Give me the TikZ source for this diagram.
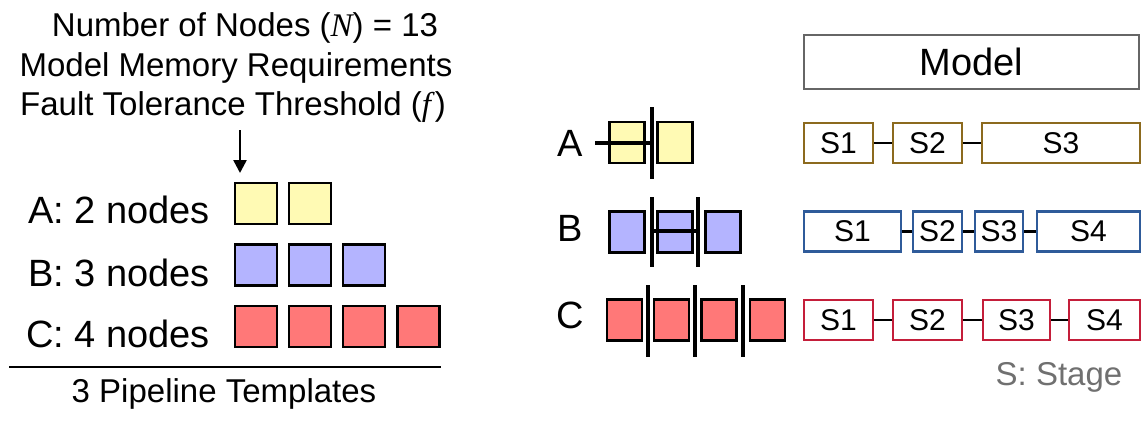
\documentclass[tikz,border=0pt]{standalone}
\usepackage{fontspec}
\setmainfont{Liberation Sans}
\newfontfamily\serifit{Liberation Serif}
\usetikzlibrary{arrows.meta}
\definecolor{yel}{HTML}{FFFAB4}
\definecolor{lav}{HTML}{B4B4FF}
\definecolor{sal}{HTML}{FF7878}
\definecolor{bA}{HTML}{8C6A1E}
\definecolor{bB}{HTML}{2F5B9A}
\definecolor{bC}{HTML}{C41E3A}
\definecolor{stgray}{HTML}{707070}
\begin{document}
\begin{tikzpicture}[x=1pt,y=-1pt,
 big/.style={font=\fontsize{33}{40}\selectfont, inner sep=0},
 lab/.style={font=\fontsize{38}{44}\selectfont, inner sep=0},
 sq/.style={draw=black, line width=2.3pt, minimum width=42pt, minimum height=41pt, inner sep=0},
 rsq/.style={draw=black, line width=2.3pt, minimum width=35pt, minimum height=41pt, inner sep=0},
 bar/.style={line width=4.5pt},
 stgbox/.style={draw, line width=2.3pt, minimum height=40pt, inner sep=0, font=\fontsize{30}{34}\selectfont},
 conn/.style={line width=2.2pt},
]
\useasboundingbox (0,0) rectangle (1143,424);

% title
\node[big, anchor=base] (t1) at (245,36) {Number of Nodes ({\serifit\itshape N}) = 13};
\node[big, anchor=base] (t2) at (236,76) {Model Memory Requirements};
\node[big, anchor=base] (t3) at (233,115) {Fault Tolerance Threshold ({\serifit\itshape f\/})};
\coordinate (arrtop) at (240,130);
\coordinate (arrbot) at (240,173);
\draw[line width=2.5pt, -{Triangle[length=13pt,width=13pt]}] (arrtop) -- (arrbot);

% left labels
\node[lab, anchor=base east] (la) at (210,223) {A: 2 nodes};
\node[lab, anchor=base east] (lb) at (210,286) {B: 3 nodes};
\node[lab, anchor=base east] (lc) at (210,347) {C: 4 nodes};

% left squares
\node[sq, fill=yel] (a1) at (256,203.5) {};
\node[sq, fill=yel] (a2) at (310,203.5) {};
\node[sq, fill=lav] (b1) at (256,265) {};
\node[sq, fill=lav] (b2) at (310,265) {};
\node[sq, fill=lav] (b3) at (364,265) {};
\node[sq, fill=sal] (c1) at (256,326.5) {};
\node[sq, fill=sal] (c2) at (310,326.5) {};
\node[sq, fill=sal] (c3) at (364,326.5) {};
\node[sq, fill=sal] (c4) at (418.5,326.5) {};

\coordinate (rl) at (9,367);
\coordinate (rr) at (441,367);
\draw[line width=2pt] (rl) -- (rr);
\node[big, anchor=base] (tmpl) at (224,402) {3 Pipeline Templates};

% right letters
\node[lab, anchor=base] (ra) at (570,156) {A};
\node[lab, anchor=base] (rb) at (570,241) {B};
\node[lab, anchor=base] (rc) at (570,328) {C};

% right squares
\node[rsq, fill=yel] (ra1) at (627,142.5) {};
\node[rsq, fill=yel] (ra2) at (675,142.5) {};
\node[rsq, fill=lav] (rb1) at (627,232) {};
\node[rsq, fill=lav] (rb2) at (675,232) {};
\node[rsq, fill=lav] (rb3) at (723,232) {};
\node[rsq, fill=sal] (rc1) at (624.5,320) {};
\node[rsq, fill=sal] (rc2) at (671.5,320) {};
\node[rsq, fill=sal] (rc3) at (719,320) {};
\node[rsq, fill=sal] (rc4) at (767.5,320) {};

% bars
\draw[bar] (652,107) -- (652,179);
\draw[bar] (595,143) -- (652,143);
\draw[bar] (652,197) -- (652,267);
\draw[bar] (698,197) -- (698,267);
\draw[bar] (652,231) -- (698,231);
\draw[bar] (648,285) -- (648,357);
\draw[bar] (695,285) -- (695,357);
\draw[bar] (743,285) -- (743,357);

% model
\node[draw=black!60, line width=2pt, minimum width=335pt, minimum height=54pt, inner sep=0, font=\fontsize{38}{44}\selectfont] (model) at (971.5,62) {Model};

% stages A
\node[stgbox, draw=bA, minimum width=69pt] (sa1) at (838.5,143) {S1};
\node[stgbox, draw=bA, minimum width=69pt] (sa2) at (927.5,143) {S2};
\node[stgbox, draw=bA, minimum width=158pt] (sa3) at (1061,143) {S3};
\draw[conn] (sa1.east) -- (sa2.west);
\draw[conn] (sa2.east) -- (sa3.west);

% stages B
\node[stgbox, draw=bB, minimum width=97pt] (sb1) at (852.5,231.5) {S1};
\node[stgbox, draw=bB, minimum width=49pt] (sb2) at (937.5,231.5) {S2};
\node[stgbox, draw=bB, minimum width=48pt] (sb3) at (999,231.5) {S3};
\node[stgbox, draw=bB, minimum width=103pt] (sb4) at (1088.5,231.5) {S4};
\draw[conn] (sb1.east) -- (sb2.west);
\draw[conn] (sb2.east) -- (sb3.west);
\draw[conn] (sb3.east) -- (sb4.west);

% stages C
\node[stgbox, draw=bC, minimum width=69pt] (sc1) at (838.5,320) {S1};
\node[stgbox, draw=bC, minimum width=69pt] (sc2) at (927.5,320) {S2};
\node[stgbox, draw=bC, minimum width=67pt] (sc3) at (1016.5,320) {S3};
\node[stgbox, draw=bC, minimum width=71pt] (sc4) at (1104.5,320) {S4};
\draw[conn] (sc1.east) -- (sc2.west);
\draw[conn] (sc2.east) -- (sc3.west);
\draw[conn] (sc3.east) -- (sc4.west);

\node[big, anchor=base, text=stgray] (legend) at (1059,385) {S: Stage};
\end{tikzpicture}
\end{document}
